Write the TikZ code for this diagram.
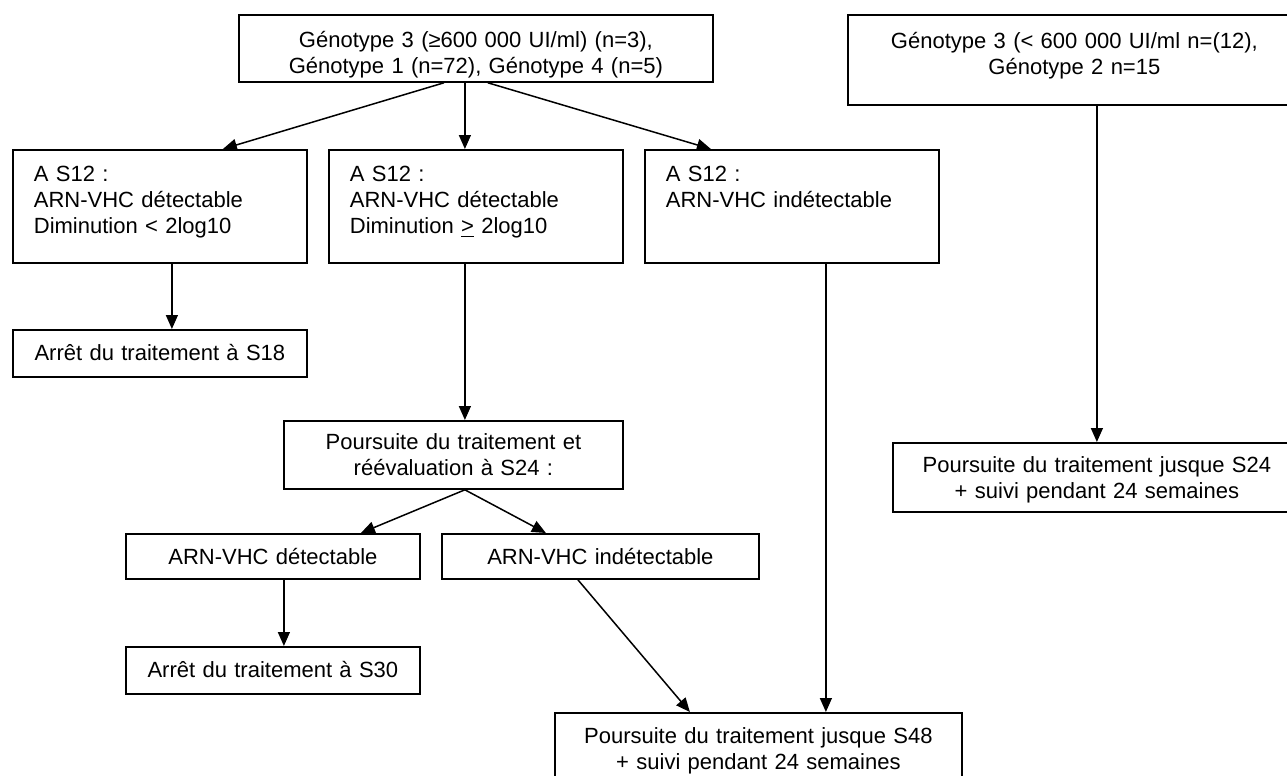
\documentclass[tikz,border=0pt]{standalone}
\usepackage{fontspec}
\setmainfont{Liberation Sans}
\usetikzlibrary{arrows.meta, calc, positioning}

\tikzset{
    box/.style={draw, line width=0.9pt, anchor=north west, inner xsep=0pt, inner ysep=0pt, font=\fontsize{11}{13}\selectfont},
    flow/.style={line width=0.75pt, -{Triangle[length=7pt, width=6pt]}}
}

\begin{document}
\begin{tikzpicture}[x=0.5pt, y=-0.5pt]
        \clip (0,0) rectangle (1287,776);
        \fill[white] (0,0) rectangle (1287,776);

        \node[box, text width=237pt, align=center, text height=16.5pt, text depth=17pt] (Ghigh) at (238, 14) {Génotype 3 (≥600 000 UI/ml) (n=3),\\Génotype 1 (n=72), Génotype 4 (n=5)};
        \node[box, text width=226.5pt, align=center, text height=17pt, text depth=28pt] (Glow) at (847, 14) {Génotype 3 (< 600 000 UI/ml n=(12),\\Génotype 2 n=15};

        \node[box, inner xsep=10.5pt, text width=126pt, align=left, text height=16pt, text depth=40.5pt] (Slow) at (12, 149) {A S12 :\\ARN-VHC détectable\\Diminution < 2log10};
        \node[box, inner xsep=10.5pt, text width=126pt, align=left, text height=16pt, text depth=40.5pt] (Shigh) at (328, 149) {A S12 :\\ARN-VHC détectable\\Diminution \underline{>} 2log10};
        \node[box, inner xsep=10.5pt, text width=126pt, align=left, text height=16pt, text depth=40.5pt] (Sund) at (644, 149) {A S12 :\\ARN-VHC indétectable};

        \node[box, text width=147pt, align=center, text height=15.5pt, text depth=8pt] (StopA) at (12, 329) {Arrêt du traitement à S18};
        \node[box, text width=169.5pt, align=center, text height=14.5pt, text depth=19.5pt] (Reeval) at (283, 420) {Poursuite du traitement et\\réévaluation à S24 :};

        \node[box, text width=147pt, align=center, text height=15.5pt, text depth=7pt] (DetA) at (125, 533) {ARN-VHC détectable};
        \node[box, text width=158.5pt, align=center, text height=15.5pt, text depth=7pt] (UndB) at (441, 533) {ARN-VHC indétectable};
        \node[box, text width=147pt, align=center, text height=15.5pt, text depth=8pt] (StopB) at (125, 646) {Arrêt du traitement à S30};

        \node[box, text width=203.5pt, align=center, text height=15.5pt, text depth=24.5pt] (Fin) at (554, 712) {Poursuite du traitement jusque S48\\+ suivi pendant 24 semaines};
        \node[box, text width=204pt, align=center, text height=15pt, text depth=19.5pt] (ContLow) at (892, 442) {Poursuite du traitement jusque S24\\+ suivi pendant 24 semaines};

        \draw[flow] ($(Ghigh.south)+(-32,0)$) -- ($(Slow.north)+(63,0)$);
        \draw[flow] ($(Ghigh.south)+(-11,0)$) -- ($(Shigh.north)+(-11,0)$);
        \draw[flow] ($(Ghigh.south)+(12,0)$) -- ($(Sund.north)+(-81,0)$);

        \draw[flow] ($(Slow.south)+(12,0)$) -- ($(StopA.north)+(12,0)$);
        \draw[flow] ($(Shigh.south)+(-11,0)$) -- ($(Reeval.north)+(11.5,0)$);
        \draw[flow] ($(Sund.south)+(34,0)$) -- ($(Fin.north)+(67.5,0)$);

        \draw[flow] ($(Reeval.south)+(11.5,0)$) -- ($(DetA.north)+(88,0)$);
        \draw[flow] ($(Reeval.south)+(11.5,0)$) -- ($(UndB.north)+(-54.5,0)$);
        \draw[flow] ($(DetA.south)+(11,0)$) -- ($(StopB.north)+(11,0)$);
        \draw[flow] ($(UndB.south)+(-22.5,0)$) -- ($(Fin.north)+(-68.5,0)$);

        \draw[flow] ($(Glow.south)+(22.5,0)$) -- (ContLow.north);

    \end{tikzpicture}
\end{document}
